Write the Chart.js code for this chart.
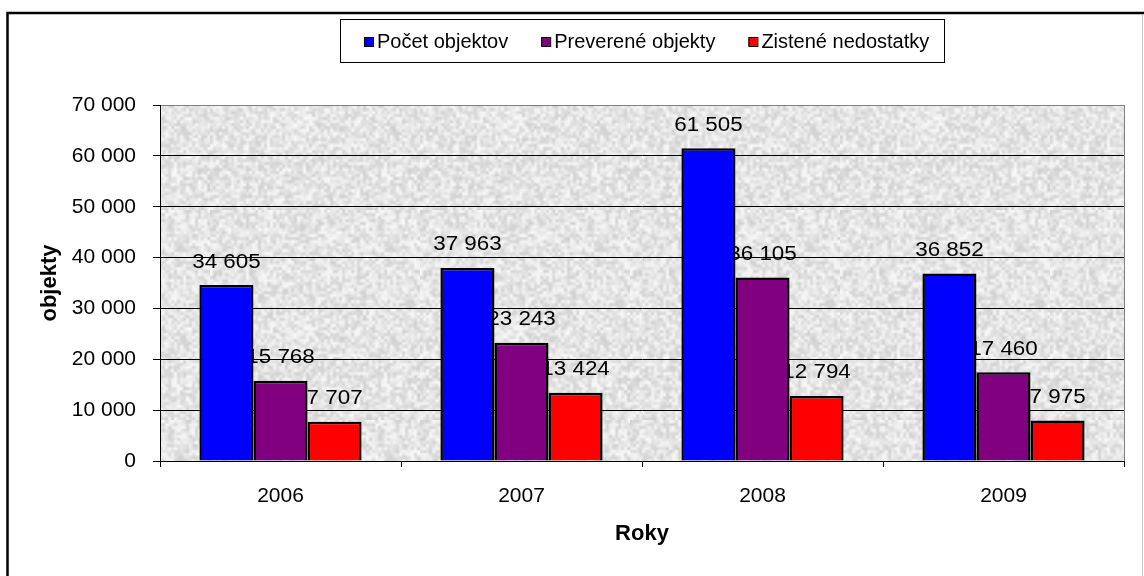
<!DOCTYPE html>
<html>
<head>
<meta charset="utf-8">
<script src="https://cdn.jsdelivr.net/npm/chart.js@4/dist/chart.umd.min.js"></script>
<style>
    html, body { margin: 0; padding: 0; background: #fff; }
    #wrap { width: 1144px; height: 576px; }
</style>
</head>
<body>
<div id="wrap"><canvas id="chart" width="1144" height="576"></canvas></div>
<script>
// (1) Data
const roky = ['2006', '2007', '2008', '2009'];
const pocetObjektov = [34605, 37963, 61505, 36852];
const prevereneObjekty = [15768, 23243, 36105, 17460];
const zisteneNedostatky = [7707, 13424, 12794, 7975];
const nazvySerii = ['Počet objektov', 'Preverené objekty', 'Zistené nedostatky'];
const farby = ['#0000ff', '#800080', '#ff0000'];
const yMax = 70000;
const yKrok = 10000;

const FONT = '"Liberation Sans", Arial, sans-serif';

// (2) Number format with space as thousands separator
function formatCislo(v) {
    return String(v).replace(/\B(?=(\d{3})+(?!\d))/g, ' ');
}

// (3) Granite-like texture for plot background (deterministic hash, not data)
function makeTexture() {
    const small = document.createElement('canvas');
    small.width = 70; small.height = 70;
    const sctx = small.getContext('2d');
    const img = sctx.createImageData(70, 70);
    for (let i = 0; i < 70 * 70; i++) {
        let h = Math.imul(i ^ 0x9e3779b9, 0x85ebca6b);
        h ^= h >>> 13; h = Math.imul(h, 0xc2b2ae35); h ^= h >>> 16;
        const g = 208 + ((h >>> 0) % 42);
        img.data[i * 4] = g; img.data[i * 4 + 1] = g; img.data[i * 4 + 2] = g; img.data[i * 4 + 3] = 255;
    }
    sctx.putImageData(img, 0, 0);
    const big = document.createElement('canvas');
    big.width = 210; big.height = 210;
    const bctx = big.getContext('2d');
    bctx.imageSmoothingEnabled = true;
    bctx.drawImage(small, 0, 0, 210, 210);
    return big;
}
const textura = makeTexture();

// (4) Background, outer frame
const pozadiePlugin = {
    id: 'pozadie',
    beforeDraw(chart) {
        const { ctx, chartArea } = chart;
        ctx.save();
        ctx.fillStyle = '#fff';
        ctx.fillRect(0, 0, chart.width, chart.height);
        ctx.fillStyle = ctx.createPattern(textura, 'repeat');
        ctx.fillRect(chartArea.left, chartArea.top, chartArea.width, chartArea.height);
        ctx.strokeStyle = '#808080';
        ctx.lineWidth = 1;
        ctx.beginPath();
        ctx.moveTo(chartArea.right + 0.5, chartArea.top);
        ctx.lineTo(chartArea.right + 0.5, chartArea.bottom);
        ctx.stroke();
        // outer frame
        ctx.strokeStyle = '#000';
        ctx.lineWidth = 2.5;
        ctx.beginPath();
        ctx.moveTo(1144, 13);
        ctx.lineTo(7.5, 13);
        ctx.lineTo(7.5, 580);
        ctx.stroke();
        ctx.strokeStyle = '#c8c8c8';
        ctx.lineWidth = 1;
        ctx.beginPath();
        ctx.moveTo(1142.5, 14);
        ctx.lineTo(1142.5, 576);
        ctx.stroke();
        ctx.restore();
    }
};

// (5) Value labels, drawn before the bars so the next bar covers them
const popiskyPlugin = {
    id: 'popisky',
    beforeDatasetsDraw(chart) {
        const { ctx } = chart;
        ctx.save();
        ctx.font = '20px ' + FONT;
        ctx.fillStyle = '#000';
        ctx.textAlign = 'center';
        ctx.textBaseline = 'middle';
        chart.data.datasets.forEach((ds, i) => {
            const meta = chart.getDatasetMeta(i);
            meta.data.forEach((bar, j) => {
                ctx.save();
                ctx.translate(bar.x, bar.y - 23);
                ctx.scale(1.12, 1);
                ctx.fillText(formatCislo(ds.data[j]), 0, 0);
                ctx.restore();
            });
        });
        ctx.restore();
    }
};

// (6) Legend in a framed box at the top
const legendaPlugin = {
    id: 'legenda',
    afterDraw(chart) {
        const { ctx } = chart;
        ctx.save();
        ctx.fillStyle = '#fff';
        ctx.fillRect(340, 19, 604, 43);
        ctx.strokeStyle = '#000';
        ctx.lineWidth = 1;
        ctx.strokeRect(340.5, 19.5, 604, 43);
        ctx.font = '20px ' + FONT;
        ctx.textBaseline = 'middle';
        ctx.textAlign = 'left';
        let x = 364;
        chart.data.datasets.forEach((ds) => {
            ctx.fillStyle = ds.backgroundColor;
            ctx.fillRect(x, 37, 9, 9);
            ctx.strokeStyle = '#000';
            ctx.strokeRect(x + 0.5, 37.5, 9, 9);
            ctx.fillStyle = '#000';
            ctx.fillText(ds.label, x + 13, 42);
            x += 13 + ctx.measureText(ds.label).width + 33;
        });
        ctx.restore();
    }
};

const ctx = document.getElementById('chart').getContext('2d');
new Chart(ctx, {
    type: 'bar',
    data: {
        labels: roky,
        datasets: [pocetObjektov, prevereneObjekty, zisteneNedostatky].map((d, i) => ({
            label: nazvySerii[i],
            data: d,
            backgroundColor: farby[i],
            borderColor: '#000',
            borderWidth: 2.5,
            categoryPercentage: 0.673,
            barPercentage: 1.0
        }))
    },
    options: {
        responsive: false,
        animation: false,
        layout: { padding: { left: 8, top: 105, right: 20, bottom: 0 } },
        plugins: {
            legend: { display: false },
            tooltip: { enabled: false }
        },
        scales: {
            x: {
                grid: { drawOnChartArea: false, drawTicks: true, tickLength: 6, tickColor: '#000', offset: true },
                border: { color: '#000', width: 1 },
                ticks: { color: '#000', font: { family: FONT, size: 21 }, padding: 17 },
                title: {
                    display: true, text: 'Roky', color: '#000',
                    font: { family: FONT, size: 22, weight: 'bold' },
                    padding: { top: 0, bottom: 29 }
                },
                afterFit(scale) { scale.height = 115; }
            },
            y: {
                min: 0,
                max: yMax,
                grid: {
                    color: (c) => (c.tick && c.tick.value === yMax ? '#808080' : '#000'),
                    tickColor: '#000',
                    tickLength: 7,
                    lineWidth: 1
                },
                border: { color: '#000', width: 1 },
                ticks: {
                    stepSize: yKrok,
                    color: '#000',
                    font: { family: FONT, size: 21 },
                    padding: 17,
                    callback: (v) => formatCislo(v)
                },
                title: {
                    display: true, text: 'objekty', color: '#000',
                    font: { family: FONT, size: 22, weight: 'bold' },
                    padding: { top: 29, bottom: 0 }
                },
                afterFit(scale) { scale.width = 152; }
            }
        }
    },
    plugins: [pozadiePlugin, popiskyPlugin, legendaPlugin]
});
</script>
</body>
</html>
